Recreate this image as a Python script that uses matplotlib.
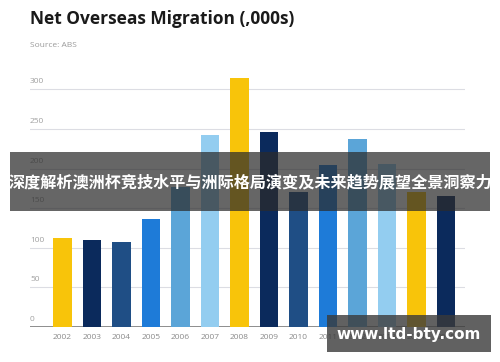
import numpy as np
import matplotlib.pyplot as plt
from matplotlib.patches import Rectangle

years = ['2002', '2003', '2004', '2005', '2006', '2007', '2008',
         '2009', '2010', '2011', '2012', '2013', '2014', '2015']
values = [112, 110, 107, 137, 177, 243, 315, 246, 171, 205, 238, 206, 171, 166]
yticks = [0, 50, 100, 150, 200, 250, 300]

palette = ['#F8C40A', '#0B2A5C', '#1F4E85', '#1E7BD8', '#5BA5D8', '#93CDF0']
colors = [palette[i % 6] for i in range(len(years))]

fig = plt.figure(figsize=(5, 3.62), dpi=100)
ax = fig.add_axes([0.06, 0.0967, 0.87, 0.70])

x = np.arange(len(years))
ax.bar(x, values, width=0.62, color=colors, zorder=3)

ax.set_xlim(-1.1, len(years) - 0.36)
ax.set_ylim(0, 320)
for t in yticks:
    ax.axhline(t, color='#dcdde3' if t else '#7a7a7a', lw=0.8 if t else 1.2, zorder=1)
    ax.text(0.0, t + 5, str(t), transform=ax.get_yaxis_transform(),
            fontsize=6, color='#a0a0a0', ha='left', va='bottom', family='Open Sans')

ax.set_yticks([])
ax.set_xticks(x)
ax.set_xticklabels(years, fontsize=6, color='#8a8a8a', family='Open Sans')
ax.tick_params(axis='x', length=0, pad=5)
for s in ax.spines.values():
    s.set_visible(False)

fig.text(0.06, 0.948, 'Net Overseas Migration (,000s)', fontsize=12.5, fontweight='bold',
         color='#1a1a1a', family='Open Sans', va='center')
fig.text(0.06, 0.875, 'Source: ABS', fontsize=6, color='#9a9a9a', family='Open Sans', va='center')

# overlay banners
fig.patches.append(Rectangle((0.02, 1 - 211 / 362), 0.96, 59 / 362, transform=fig.transFigure,
                             facecolor='#2b2b2b', alpha=0.72, zorder=10))
fig.text(0.5, 1 - 182 / 362, '深度解析澳洲杯竞技水平与洲际格局演变及未来趋势展望全景洞察力',
         fontsize=11.6, fontweight='bold', color='white', ha='center', va='center',
         family=['Noto Sans CJK SC', 'DejaVu Sans'], zorder=11)
fig.patches.append(Rectangle((327 / 500, 1 - 352 / 362), 164 / 500, 37 / 362, transform=fig.transFigure,
                             facecolor='#3a3a3a', alpha=0.8, zorder=10))
fig.text(409 / 500, 1 - 335 / 362, 'www.ltd-bty.com', fontsize=11, fontweight='bold',
         color='white', ha='center', va='center', family='DejaVu Sans', zorder=11)

fig.savefig('out.png', dpi=100)
